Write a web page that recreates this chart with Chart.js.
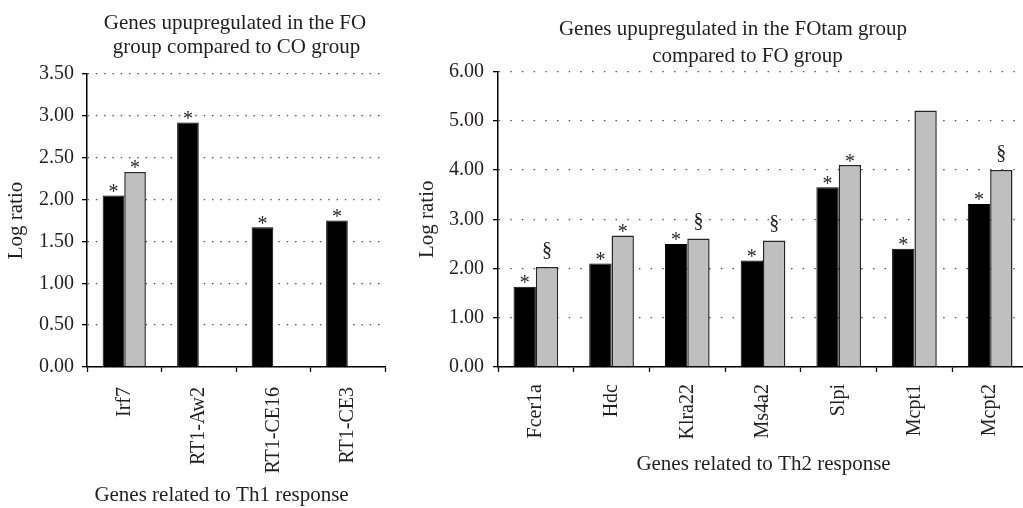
<!DOCTYPE html>
<html><head><meta charset="utf-8">
<script src="https://cdn.jsdelivr.net/npm/chart.js@4/dist/chart.umd.min.js"></script>
<style>
html,body{margin:0;padding:0;overflow:hidden;background:#fff;width:1023px;height:508px;}
canvas{position:absolute;top:0;}
#c1{left:0;}
#c2{left:400px;}
</style></head><body>
<canvas id="c1" width="400" height="508"></canvas>
<canvas id="c2" width="640" height="508"></canvas>
<script>
// ---------- data ----------
const th1Genes = ['Irf7', 'RT1-Aw2', 'RT1-CE16', 'RT1-CE3'];
const th1Black = [2.05, 2.92, 1.67, 1.75];
const th1Gray = [2.33, null, null, null];
const th1MarksBlack = ['*', '*', '*', '*'];
const th1MarksGray = ['*', '', '', ''];
const th1Title = ['Genes upupregulated in the FO', 'group compared to CO group'];
const th1AxisTitle = 'Genes related to Th1 response';
const th1Ticks = { min: 0, max: 3.5, step: 0.5 };

const th2Genes = ['Fcer1a', 'Hdc', 'Klra22', 'Ms4a2', 'Slpi', 'Mcpt1', 'Mcpt2'];
const th2Black = [1.63, 2.10, 2.50, 2.16, 3.65, 2.40, 3.31];
const th2Gray = [2.03, 2.67, 2.61, 2.57, 4.10, 5.21, 4.00];
const th2MarksBlack = ['*', '*', '*', '*', '*', '*', '*'];
const th2MarksGray = ['§', '*', '§', '§', '*', '', '§'];
const th2Title = ['Genes upupregulated in the FOtam group', 'compared to FO group'];
const th2AxisTitle = 'Genes related to Th2 response';
const th2Ticks = { min: 0, max: 6, step: 1 };

const yAxisTitle = 'Log ratio';

// ---------- style ----------
const FONT = 'Liberation Serif';
const TXT = '#231f20';
Chart.defaults.font.family = FONT;
Chart.defaults.color = TXT;

const annotate = {
  id: 'annotate',
  afterDatasetsDraw(chart, args, opts) {
    const ctx = chart.ctx;
    ctx.save();
    ctx.font = opts.markFont;
    ctx.fillStyle = TXT;
    ctx.textAlign = 'center';
    ctx.textBaseline = 'alphabetic';
    opts.marks.forEach((arr, d) => {
      const meta = chart.getDatasetMeta(d);
      arr.forEach((s, i) => {
        if (!s) return;
        const el = meta.data[i];
        ctx.fillText(s, el.x, el.y + (opts.markOffset[s] || 0));
      });
    });
    ctx.restore();
  },
  afterDraw(chart, args, opts) {
    const ctx = chart.ctx;
    ctx.save();
    ctx.fillStyle = TXT;
    ctx.textAlign = 'center';
    ctx.textBaseline = 'alphabetic';
    opts.texts.forEach(t => {
      ctx.font = t.font;
      ctx.fillText(t.text, t.x, t.y);
    });
    ctx.restore();
  }
};

function makeChart(id, cfg) {
  return new Chart(document.getElementById(id), {
    type: 'bar',
    data: {
      labels: cfg.labels,
      datasets: [
        { data: cfg.black, backgroundColor: '#000000', borderColor: '#000000', borderWidth: 1,
          categoryPercentage: cfg.catPct, barPercentage: 1 },
        { data: cfg.gray, backgroundColor: '#bfbfbf', borderColor: '#262626', borderWidth: 1.5,
          categoryPercentage: cfg.catPct, barPercentage: 1 }
      ]
    },
    options: {
      responsive: false,
      animation: false,
      devicePixelRatio: 1,
      layout: { padding: cfg.padding },
      plugins: {
        legend: { display: false },
        tooltip: { enabled: false },
        annotate: {
          marks: [cfg.marksBlack, cfg.marksGray],
          markFont: '20px "' + FONT + '"',
          markOffset: { '*': 2.5, '§': -11 },
          texts: cfg.texts
        }
      },
      scales: {
        x: {
          grid: { display: true, drawOnChartArea: false, drawTicks: true, tickLength: 5,
                  tickColor: '#000', tickWidth: 1.3, offset: true },
          border: { display: true, color: '#000', width: 1.5 },
          ticks: { minRotation: 90, maxRotation: 90, padding: cfg.xPad, color: TXT, font: { size: 20 } },
          afterFit: s => { s.height = cfg.xHeight; }
        },
        y: {
          min: cfg.ticks.min, max: cfg.ticks.max,
          ticks: { stepSize: cfg.ticks.step, padding: cfg.yPad, color: TXT, font: { size: 20 },
                   callback: v => Number(v).toFixed(2) },
          grid: { color: '#555', lineWidth: 1.3, tickLength: 5, tickColor: '#000', tickWidth: 1.3,
                  tickBorderDash: [] },
          border: { display: true, color: '#000', width: 1.5, dash: cfg.dash },
          title: { display: true, text: yAxisTitle, color: TXT, font: { size: 21 },
                   padding: { top: cfg.yTitlePad, bottom: 0 } },
          afterFit: s => { s.width = cfg.yWidth; }
        }
      }
    },
    plugins: [annotate]
  });
}

makeChart('c1', {
  labels: th1Genes, black: th1Black, gray: th1Gray,
  marksBlack: th1MarksBlack, marksGray: th1MarksGray,
  ticks: th1Ticks, catPct: 0.58,
  padding: { top: 74, right: 15, bottom: 0, left: 0 },
  xHeight: 141, yWidth: 87, yPad: 8, xPad: 15, yTitlePad: 4, dash: [1.5, 6.8],
  texts: [
    { text: th1Title[0], x: 235, y: 29, font: '21px "' + FONT + '"' },
    { text: th1Title[1], x: 236.5, y: 53, font: '21px "' + FONT + '"' },
    { text: th1AxisTitle, x: 221.5, y: 501, font: '21px "' + FONT + '"' }
  ]
});

makeChart('c2', {
  labels: th2Genes, black: th2Black, gray: th2Gray,
  marksBlack: th2MarksBlack, marksGray: th2MarksGray,
  ticks: th2Ticks, catPct: 0.59,
  padding: { top: 71.5, right: 12, bottom: 33, left: 10 },
  xHeight: 108, yWidth: 88, yPad: 9, xPad: 12, yTitlePad: 5, dash: [1.5, 10.2],
  texts: [
    { text: th2Title[0], x: 333, y: 35, font: '21px "' + FONT + '"' },
    { text: th2Title[1], x: 347.5, y: 62, font: '21px "' + FONT + '"' },
    { text: th2AxisTitle, x: 363.5, y: 470, font: '21px "' + FONT + '"' }
  ]
});
</script>
</body></html>
